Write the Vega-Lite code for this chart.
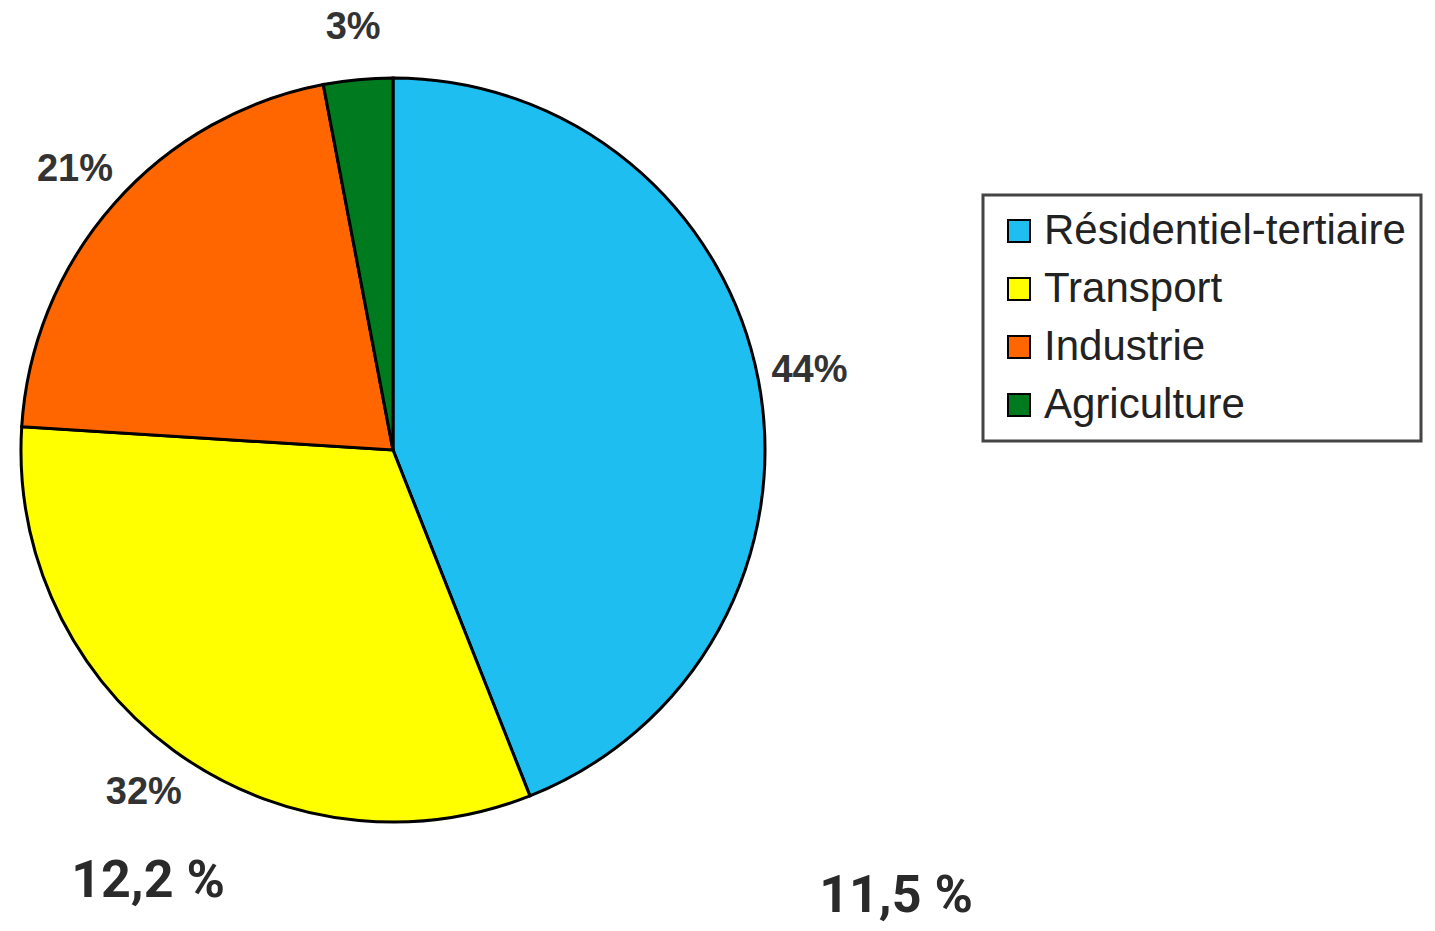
{
  "$schema": "https://vega.github.io/schema/vega-lite/v6.json",
  "width": 786,
  "height": 900,
  "padding": {"left": 0, "top": 0, "right": 0, "bottom": 12},
  "autosize": {"type": "pad"},
  "background": "white",
  "config": {"view": {"stroke": null}, "legend": {"strokeWidth": 3}},
  "layer": [
    {
      "data": {"values": [
        {"secteur": "Résidentiel-tertiaire", "part": 44, "rang": 1, "label": "44%"},
        {"secteur": "Transport", "part": 32, "rang": 2, "label": "32%"},
        {"secteur": "Industrie", "part": 21, "rang": 3, "label": "21%"},
        {"secteur": "Agriculture", "part": 3, "rang": 4, "label": "3%"}
      ]},
      "encoding": {
        "theta": {"field": "part", "type": "quantitative", "stack": true},
        "order": {"field": "rang", "type": "quantitative"}
      },
      "layer": [
        {
          "mark": {"type": "arc", "outerRadius": 372, "stroke": "black", "strokeWidth": 3},
          "encoding": {
            "color": {
              "field": "secteur",
              "type": "nominal",
              "scale": {
                "domain": ["Résidentiel-tertiaire", "Transport", "Industrie", "Agriculture"],
                "range": ["#1EBFF0", "#FFFF00", "#FF6600", "#007A1E"]
              },
              "legend": {
                "title": null,
                "orient": "none",
                "legendX": 983,
                "legendY": 195,
                "padding": 15,
                "strokeColor": "#444444",
                "symbolType": "square",
                "symbolSize": 484,
                "symbolStrokeColor": "black",
                "symbolStrokeWidth": 2,
                "symbolOpacity": 1,
                "labelFont": "Liberation Sans",
                "labelFontSize": 42,
                "labelColor": "#222222",
                "labelOffset": 4,
                "rowPadding": 16,
                "labelLimit": 600
              }
            }
          }
        },
        {
          "mark": {"type": "text", "radius": 424, "font": "Liberation Sans", "fontWeight": "bold", "fontSize": 38, "color": "#333333"},
          "encoding": {"text": {"field": "label", "type": "nominal"}}
        }
      ]
    },
    {
      "data": {"values": [{"texte": "12,2 %"}]},
      "mark": {"type": "text", "x": 148, "y": 897, "baseline": "alphabetic", "align": "center", "font": "Roboto", "fontWeight": "bold", "fontSize": 52, "color": "#2a2a2a"},
      "encoding": {"text": {"field": "texte", "type": "nominal"}}
    },
    {
      "data": {"values": [{"texte": "11,5 %"}]},
      "mark": {"type": "text", "x": 896, "y": 912, "baseline": "alphabetic", "align": "center", "font": "Roboto", "fontWeight": "bold", "fontSize": 52, "color": "#2a2a2a"},
      "encoding": {"text": {"field": "texte", "type": "nominal"}}
    }
  ]
}
